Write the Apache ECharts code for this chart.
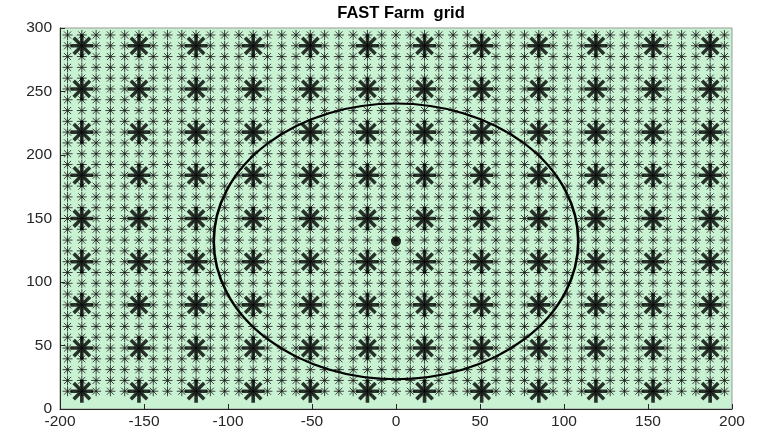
<!DOCTYPE html>
<html>
<head>
<meta charset="utf-8">
<title>FAST Farm grid</title>
<script src="https://cdn.jsdelivr.net/npm/echarts@6/dist/echarts.min.js"></script>
<style>
  html, body { margin: 0; padding: 0; background: #fff; }
  #chart { width: 757px; height: 436px; }
</style>
</head>
<body>
<div id="chart"></div>
<script>
// high-res grid (small markers)
const smallX = [-195.5, -187, -178.5, -170, -161.5, -153, -144.5, -136, -127.5, -119, -110.5, -102,
  -93.5, -85, -76.5, -68, -59.5, -51, -42.5, -34, -25.5, -17, -8.5, 0, 8.5, 17, 25.5, 34, 42.5, 51,
  59.5, 68, 76.5, 85, 93.5, 102, 110.5, 119, 127.5, 136, 144.5, 153, 161.5, 170, 178.5, 187, 195.5]
const smallY = [14, 22.5, 31, 39.5, 48, 56.5, 65, 73.5, 82, 90.5, 99, 107.5, 116, 124.5, 133, 141.5,
  150, 158.5, 167, 175.5, 184, 192.5, 201, 209.5, 218, 226.5, 235, 243.5, 252, 260.5, 269, 277.5,
  286, 294.5]
// low-res grid (big markers)
const bigX = [-187, -153, -119, -85, -51, -17, 17, 51, 85, 119, 153, 187]
const bigY = [14, 48, 82, 116, 150, 184, 218, 252, 286]
// domain circle
const circleCenter = [0, 132]
const circleRadius = 108.5

const xTicks = [-200, -150, -100, -50, 0, 50, 100, 150, 200]
const yTicks = [0, 50, 100, 150, 200, 250, 300]

const STAR = 'path://M0,10L20,10M10,0L10,20M2.93,2.93L17.07,17.07M17.07,2.93L2.93,17.07'

function gridPoints(xs, ys) {
  const pts = []
  xs.forEach(x => ys.forEach(y => pts.push([x, y])))
  return pts
}

const chart = echarts.init(document.getElementById('chart'))
const FONT = 'Liberation Sans, Arial, sans-serif'
const axisLabel = { color: '#262626', fontSize: 15.5, fontFamily: FONT }

chart.setOption({
  animation: false,
  title: {
    text: 'FAST Farm  grid',
    left: 396,
    top: 0,
    textAlign: 'center',
    textStyle: { fontSize: 16.5, fontWeight: 'bold', color: '#000', fontFamily: FONT }
  },
  grid: {
    left: 60,
    right: 25,
    top: 28,
    bottom: 27,
    show: true,
    backgroundColor: '#c9f2d3',
    borderColor: '#9a9a9a',
    borderWidth: 1
  },
  xAxis: {
    type: 'value',
    min: xTicks[0],
    max: xTicks[xTicks.length - 1],
    interval: 50,
    splitLine: { show: false },
    axisLine: { onZero: false, lineStyle: { color: '#262626' } },
    axisTick: { inside: true, length: 5, lineStyle: { color: '#262626' } },
    axisLabel: Object.assign({ margin: 5 }, axisLabel)
  },
  yAxis: {
    type: 'value',
    min: yTicks[0],
    max: yTicks[yTicks.length - 1],
    interval: 50,
    splitLine: { show: false },
    axisLine: { show: true, onZero: false, lineStyle: { color: '#262626' } },
    axisTick: { show: true, inside: true, length: 5, lineStyle: { color: '#262626' } },
    axisLabel: Object.assign({ margin: 8 }, axisLabel)
  },
  series: [
    {
      type: 'scatter',
      silent: true,
      symbol: STAR,
      symbolSize: 10,
      itemStyle: { color: 'transparent', borderColor: '#111', borderWidth: 1 },
      data: gridPoints(smallX, smallY)
    },
    {
      type: 'scatter',
      silent: true,
      symbol: STAR,
      symbolSize: 23,
      itemStyle: { color: 'transparent', borderColor: '#000', borderWidth: 3.6 },
      data: gridPoints(bigX, bigY)
    },
    {
      type: 'custom',
      silent: true,
      data: [[circleCenter[0], circleCenter[1], circleRadius]],
      renderItem(params, api) {
        const c = api.coord([api.value(0), api.value(1)])
        const s = api.size([api.value(2), api.value(2)])
        return {
          type: 'circle',
          x: c[0],
          y: c[1],
          scaleY: s[1] / s[0],
          shape: { cx: 0, cy: 0, r: s[0] },
          style: { fill: 'none', stroke: '#000', lineWidth: 2.6, strokeNoScale: true }
        }
      }
    },
    {
      type: 'scatter',
      silent: true,
      symbol: 'circle',
      symbolSize: 10,
      itemStyle: { color: '#000' },
      data: [circleCenter]
    }
  ]
})
</script>
</body>
</html>
